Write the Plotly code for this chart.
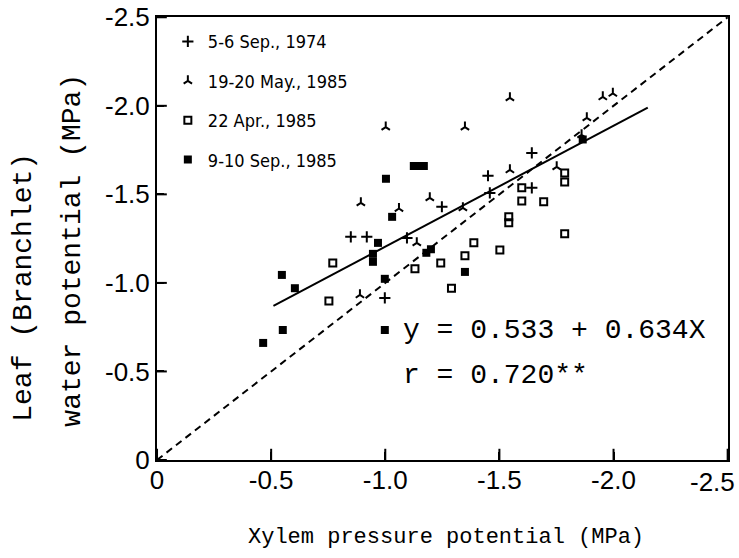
import plotly.graph_objects as go

# ---- data (MPa) ----
sep74_x = [-1.248, -0.849, -0.919, -0.998, -1.450, -1.642, -1.642, -1.095, -1.458]
sep74_y = [-1.430, -1.260, -1.260, -0.915, -1.605, -1.734, -1.537, -1.254, -1.508]

may85_x = [-1.002, -0.893, -1.195, -1.060, -1.546, -1.349, -1.546, -1.340, -1.883,
           -1.860, -1.953, -1.997, -1.751, -1.138, -0.889]
may85_y = [-1.880, -1.452, -1.480, -1.420, -2.045, -1.880, -1.638, -1.424, -1.932,
           -1.836, -2.050, -2.070, -1.655, -1.226, -0.932]

apr85_x = [-0.770, -0.753, -1.130, -1.243, -1.290, -1.388, -1.349, -1.502, -1.786,
           -1.786, -1.786, -1.598, -1.598, -1.694, -1.541, -1.541]
apr85_y = [-1.113, -0.898, -1.080, -1.113, -0.970, -1.226, -1.153, -1.186, -1.277,
           -1.620, -1.570, -1.537, -1.463, -1.458, -1.373, -1.339]

sep85_x = [-1.125, -1.147, -1.169, -1.003, -1.030, -0.968, -0.946, -0.946, -0.547,
           -0.604, -0.998, -1.180, -1.200, -1.349, -0.998, -0.551, -0.465, -1.865]
sep85_y = [-1.660, -1.660, -1.660, -1.588, -1.373, -1.226, -1.164, -1.119, -1.045,
           -0.970, -1.023, -1.170, -1.190, -1.062, -0.734, -0.734, -0.661, -1.810]

series_names = ["5-6 Sep., 1974", "19-20 May., 1985", "22 Apr., 1985", "9-10 Sep., 1985"]

fit_x = [-0.51, -2.15]
fit_y = [-0.87, -1.99]
one_to_one = [0.0, -2.5]

tick_vals = [0, -0.5, -1.0, -1.5, -2.0, -2.5]
y_tick_text = ["0", "-0.5", "-1.0", "-1.5", "-2.0", "-2.5"]
# the last x label is drawn as an annotation so that it stays inside the page
x_tick_text = ["0", "-0.5", "-1.0", "-1.5", "-2.0", ""]
x_last_label = "-2.5"

eq_text = "y = 0.533 + 0.634X"
r_text = "r = 0.720**"

# ---- figure ----
fig = go.Figure()

fig.add_trace(go.Scatter(x=one_to_one, y=one_to_one, mode="lines",
                         line=dict(color="black", width=2, dash="7px,5px"),
                         showlegend=False, hoverinfo="skip"))
fig.add_trace(go.Scatter(x=fit_x, y=fit_y, mode="lines",
                         line=dict(color="black", width=2),
                         showlegend=False, hoverinfo="skip"))

# inside tick marks along the axes (half of each marker is clipped by the frame)
axis_base = tick_vals[0]
fig.add_trace(go.Scatter(x=tick_vals, y=[axis_base] * len(tick_vals), mode="markers",
                         marker=dict(symbol="line-ns-open", size=16, color="black",
                                     line=dict(color="black", width=2)),
                         cliponaxis=True, showlegend=False, hoverinfo="skip"))
fig.add_trace(go.Scatter(x=[axis_base] * len(tick_vals), y=tick_vals, mode="markers",
                         marker=dict(symbol="line-ew-open", size=14, color="black",
                                     line=dict(color="black", width=2)),
                         cliponaxis=True, showlegend=False, hoverinfo="skip"))

fig.add_trace(go.Scatter(x=sep74_x, y=sep74_y, mode="markers", name=series_names[0],
                         legendgroup="a",
                         marker=dict(symbol="cross-thin-open", size=8, color="black",
                                     line=dict(color="black", width=2))))
fig.add_trace(go.Scatter(x=may85_x, y=may85_y, mode="markers", name=series_names[1],
                         legendgroup="b",
                         marker=dict(symbol="y-up-open", size=7, color="black",
                                     line=dict(color="black", width=2))))
fig.add_trace(go.Scatter(x=apr85_x, y=apr85_y, mode="markers", name=series_names[2],
                         legendgroup="c",
                         marker=dict(symbol="square-open", size=7, color="black",
                                     line=dict(color="black", width=2))))
fig.add_trace(go.Scatter(x=sep85_x, y=sep85_y, mode="markers", name=series_names[3],
                         legendgroup="d",
                         marker=dict(symbol="square", size=8, color="black",
                                     line=dict(color="black", width=0))))

tick_font = dict(family="Liberation Sans, sans-serif", size=26, color="black")
mono = "Liberation Mono, Courier New, monospace"

fig.update_xaxes(range=[0.0001, -2.5015], tickmode="array", tickvals=tick_vals,
                 ticktext=x_tick_text, automargin=False,
                 showgrid=False, zeroline=False, showline=True, linecolor="black",
                 linewidth=2, mirror=True, ticks="inside", ticklen=8, tickwidth=2,
                 tickcolor="black", layer="above traces", tickfont=tick_font,
                 ticklabelstandoff=-4)
fig.update_yaxes(range=[0.0001, -2.5015], tickmode="array", tickvals=tick_vals,
                 ticktext=y_tick_text, automargin=False,
                 showgrid=False, zeroline=False, showline=True, linecolor="black",
                 linewidth=2, mirror=True, ticks="inside", ticklen=7, tickwidth=2,
                 tickcolor="black", layer="above traces", tickfont=tick_font)

annos = [
    dict(text=x_last_label, x=1.0165, y=-0.0497, xref="paper", yref="paper",
         showarrow=False, xanchor="right", yanchor="middle", font=tick_font),
    dict(text="Xylem pressure potential (MPa)", x=0.506, y=-0.174, xref="paper", yref="paper",
         showarrow=False, xanchor="center", yanchor="middle",
         font=dict(family=mono, size=22, color="black")),
    dict(text="Leaf (Branchlet)", x=-0.233, y=0.391, xref="paper", yref="paper",
         showarrow=False, textangle=-90, xanchor="center", yanchor="middle",
         font=dict(family=mono, size=28, color="black")),
    dict(text="water potential (MPa)", x=-0.1485, y=0.473, xref="paper", yref="paper",
         showarrow=False, textangle=-90, xanchor="center", yanchor="middle",
         font=dict(family=mono, size=28, color="black")),
    dict(text=eq_text, x=0.428, y=0.292, xref="paper", yref="paper",
         showarrow=False, xanchor="left", yanchor="middle",
         font=dict(family=mono, size=28, color="black")),
    dict(text=r_text, x=0.428, y=0.19, xref="paper", yref="paper",
         showarrow=False, xanchor="left", yanchor="middle",
         font=dict(family=mono, size=28, color="black")),
]

fig.update_layout(
    width=739, height=558,
    margin=dict(l=157, r=11, t=17, b=98, autoexpand=False),
    paper_bgcolor="white", plot_bgcolor="white",
    annotations=annos,
    legend=dict(x=0.019, y=0.986, xanchor="left", yanchor="top",
                bgcolor="rgba(0,0,0,0)", tracegroupgap=13,
                font=dict(family="Liberation Sans Narrow, DejaVu Sans Condensed, sans-serif",
                          size=18, color="black")),
)

fig.write_html("out.html", config={"displayModeBar": False},
               post_script="document.body.style.margin='0';document.body.style.overflow='hidden';")
